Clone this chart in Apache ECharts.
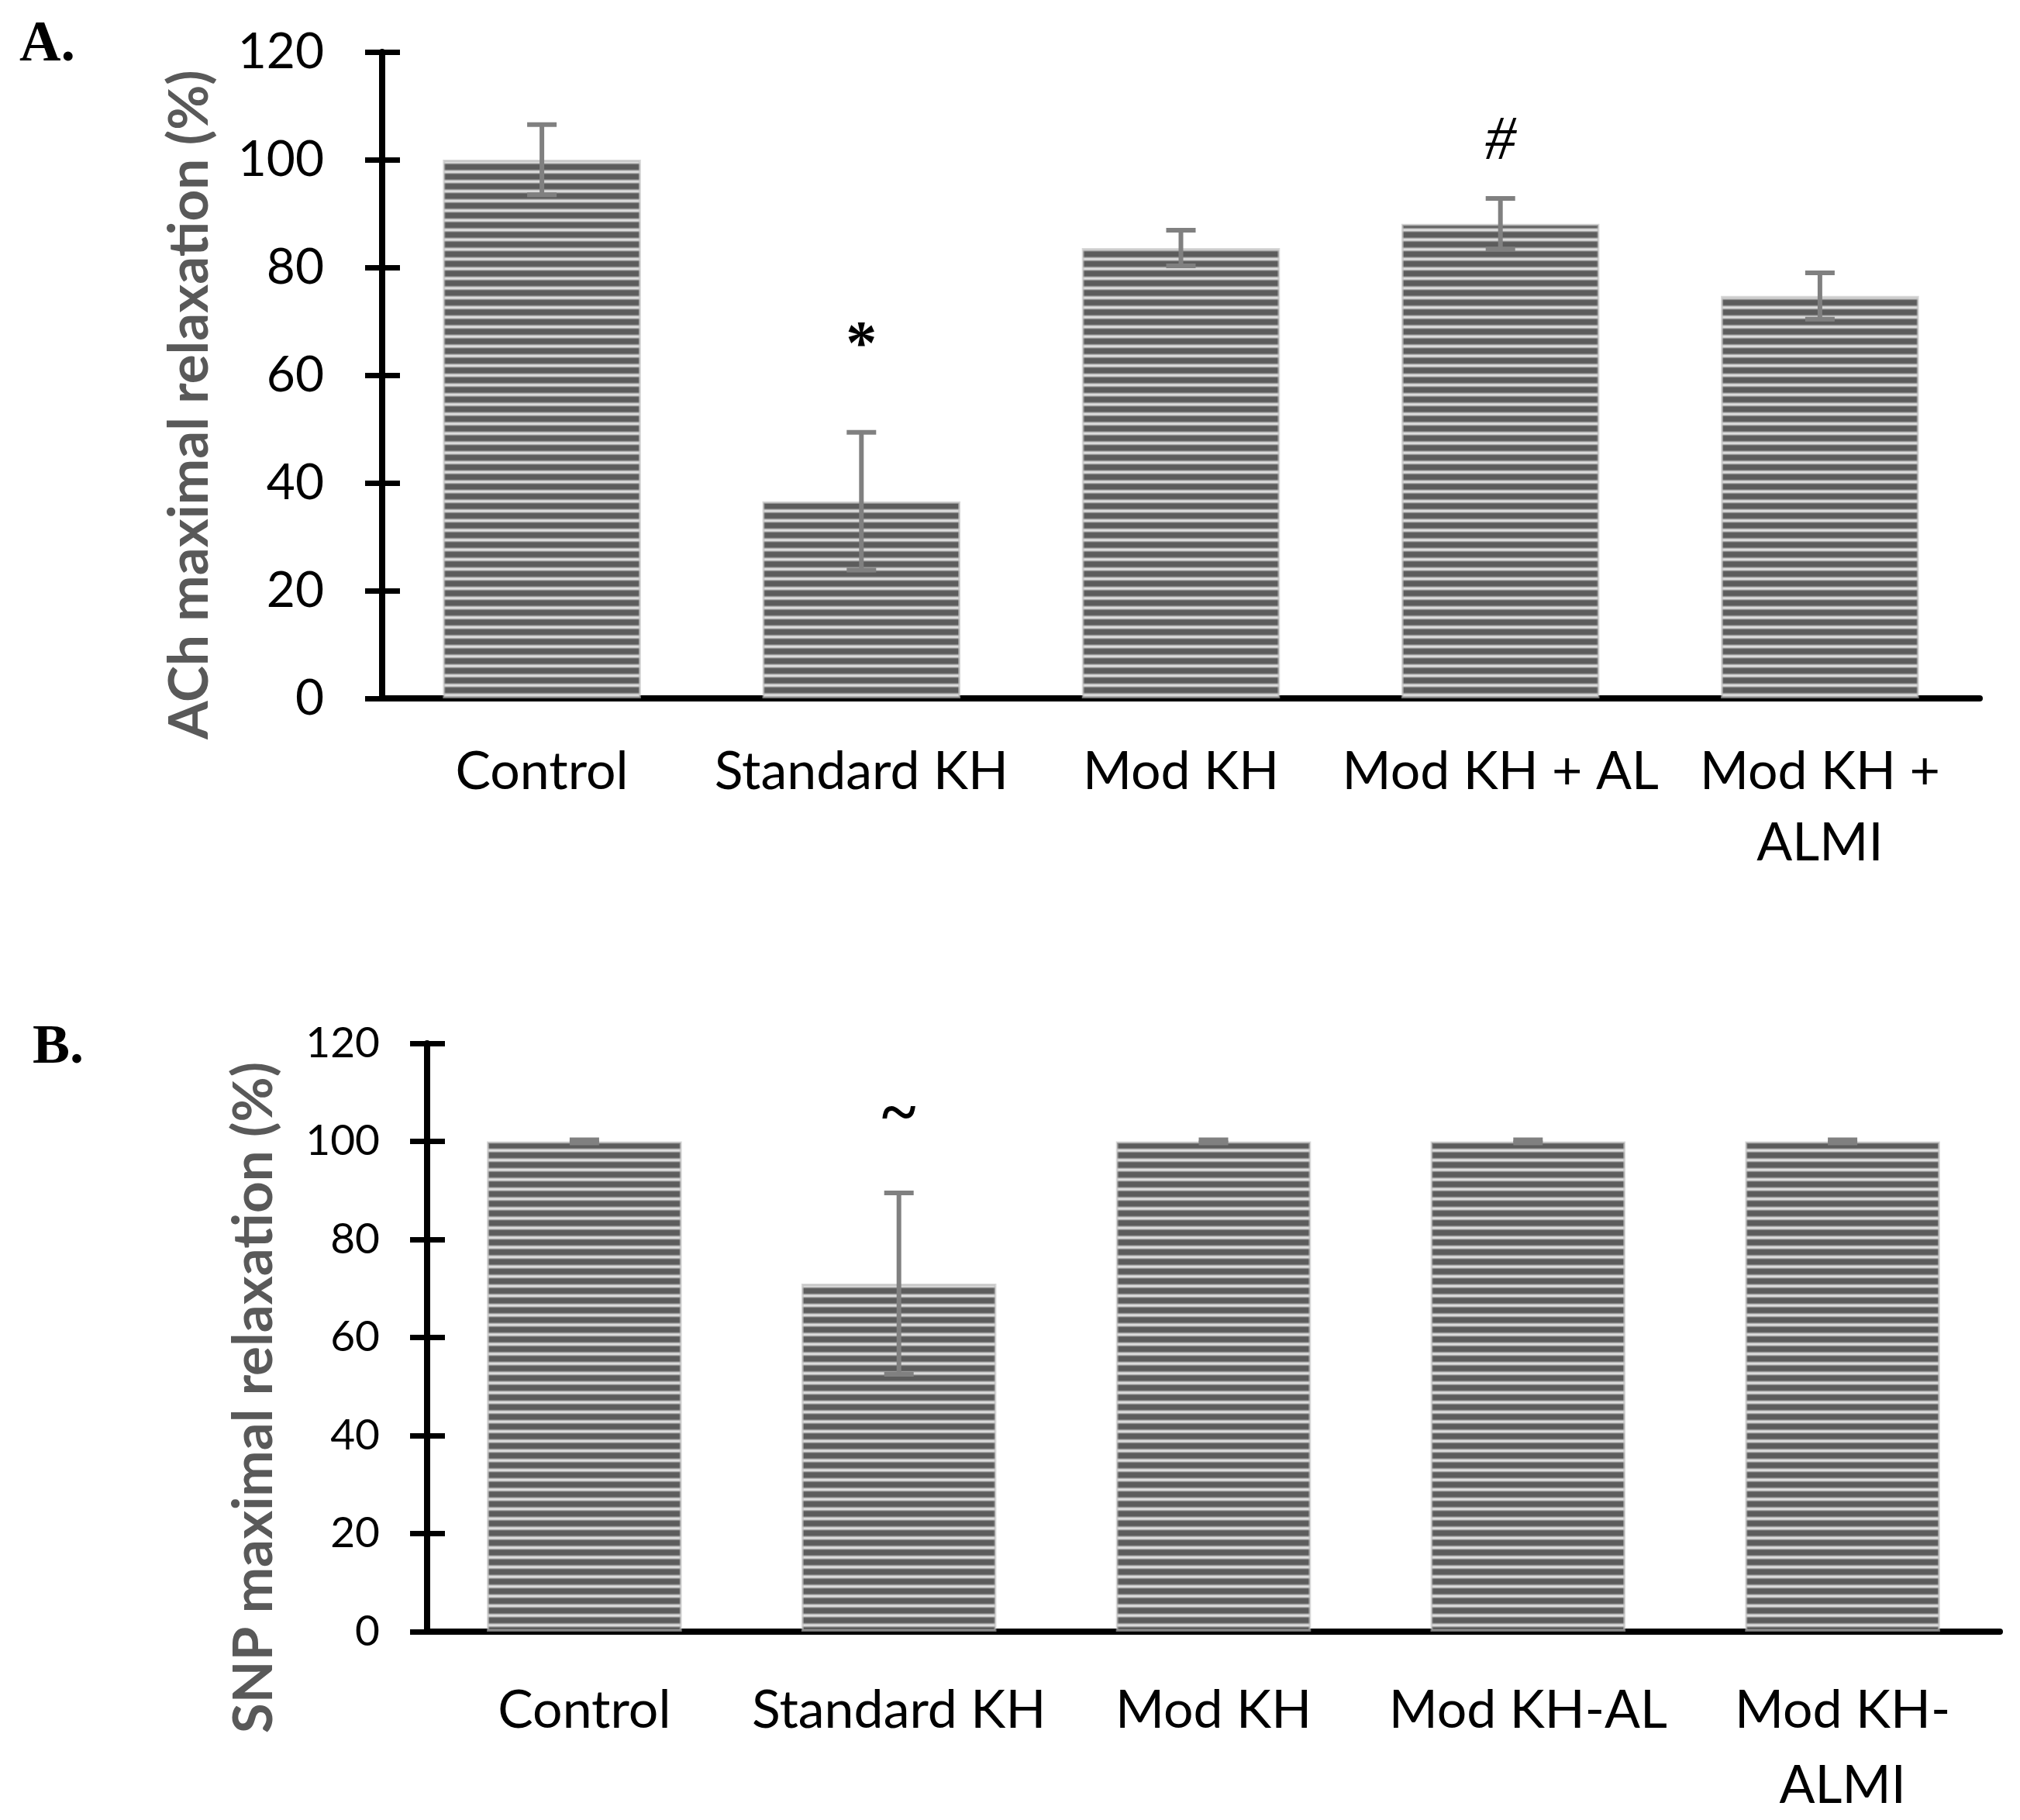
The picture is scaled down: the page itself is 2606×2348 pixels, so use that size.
<!DOCTYPE html>
<html><head><meta charset="utf-8">
<script src="https://cdn.jsdelivr.net/npm/echarts@6/dist/echarts.min.js"></script>
<style>html,body{margin:0;padding:0;background:#fff}#c{width:2606px;height:2348px}</style>
</head><body><div id="c"></div>
<script>
// ---- Data ----
const categoriesA = ['Control', 'Standard KH', 'Mod KH', 'Mod KH + AL', 'Mod KH +\nALMI'];
const meansA = [100, 36.6, 83.6, 88.1, 74.7];
const errA = [6.5, 12.8, 3.3, 4.7, 4.3];
const annotA = ['', '*', '', '#', ''];
const annotYA = [null, 65.1, null, 103.1, null];

const categoriesB = ['Control', 'Standard KH', 'Mod KH', 'Mod KH-AL', 'Mod KH-\nALMI'];
const meansB = [100, 71, 100, 100, 100];
const errB = [0.3, 18.5, 0.3, 0.3, 0.3];
const annotB = ['', '~', '', '', ''];
const annotYB = [null, 104.9, null, null, null];

const yTitleA = 'ACh maximal relaxation (%)';
const yTitleB = 'SNP maximal relaxation (%)';

// ---- Stripe pattern ----
const pc = document.createElement('canvas');
pc.width = 8; pc.height = 25;
const pctx = pc.getContext('2d');
function prof(t) {
  const D = 92, L = 222;
  if (t < 0.46) return D;
  if (t < 0.68) return D + (L - D) * (t - 0.46) / 0.22;
  if (t < 0.80) return L;
  return L - (L - D) * (t - 0.80) / 0.20;
}
for (let y = 0; y < 25; y++) {
  let s = 0;
  for (let k = 0; k < 4; k++) s += prof((((y + (k + 0.5) / 4)) % 12.5) / 12.5);
  const b = Math.round(s / 4);
  pctx.fillStyle = 'rgb(' + b + ',' + b + ',' + b + ')';
  pctx.fillRect(0, y, 8, 1);
}
const stripe = { image: pc, repeat: 'repeat' };

const FONT = 'Lato';
const chart = echarts.init(document.getElementById('c'), null, { renderer: 'canvas' });

function errSeries(xi, yi, means, errs) {
  return {
    type: 'custom', xAxisIndex: xi, yAxisIndex: yi, z: 5,
    data: means.map((m, i) => [i, m, errs[i]]),
    renderItem: function (params, api) {
      const i = api.value(0), m = api.value(1), e = api.value(2);
      const top = api.coord([i, m + e]);
      const bot = api.coord([i, m - e]);
      const hw = 19;
      const st = { stroke: '#808080', lineWidth: 6 };
      return { type: 'group', children: [
        { type: 'line', shape: { x1: top[0], y1: top[1], x2: bot[0], y2: bot[1] }, style: st },
        { type: 'line', shape: { x1: top[0] - hw, y1: top[1], x2: top[0] + hw, y2: top[1] }, style: st },
        { type: 'line', shape: { x1: bot[0] - hw, y1: bot[1], x2: bot[0] + hw, y2: bot[1] }, style: st }
      ]};
    }
  };
}
function annotSeries(xi, yi, labels, ys, font) {
  return {
    type: 'custom', xAxisIndex: xi, yAxisIndex: yi, z: 6,
    data: labels.map((t, i) => [i, ys[i] == null ? 0 : ys[i], t]).filter(d => d[2] !== ''),
    renderItem: function (params, api) {
      const p = api.coord([api.value(0), api.value(1)]);
      return { type: 'text', x: p[0], y: p[1], style: {
        text: labels[api.value(0)], font: font(labels[api.value(0)]), fill: '#000', align: 'center', verticalAlign: 'middle' } };
    }
  };
}
const annotFont = function (t) {
  if (t === '#') return 'italic 80px "Liberation Serif"';
  if (t === '~') return 'bold 84px "Liberation Serif"';
  return 'bold 80px "Liberation Serif"';
};

function yAxisPair(gi, labelSize, margin) {
  const base = { type: 'value', gridIndex: gi, min: 0, max: 120, interval: 20, position: 'left', splitLine: { show: false } };
  return [
    Object.assign({}, base, {
      axisLine: { show: true, lineStyle: { color: '#000', width: 8 } },
      axisTick: { show: true, inside: false, length: 22, lineStyle: { color: '#000', width: 7 } },
      axisLabel: { fontFamily: FONT, fontSize: labelSize, color: '#000', margin: margin }
    }),
    Object.assign({}, base, {
      axisLine: { show: false },
      axisTick: { show: true, inside: true, length: 23, lineStyle: { color: '#000', width: 7 } },
      axisLabel: { show: false }
    })
  ];
}
function xAxis(gi, cats, margin, lh) {
  return {
    type: 'category', gridIndex: gi, data: cats,
    axisLine: { show: true, lineStyle: { color: '#000', width: 8 } },
    axisTick: { show: false },
    axisLabel: { fontFamily: FONT, fontSize: 68, color: '#000', margin: margin, lineHeight: lh, interval: 0 }
  };
}

const yA = yAxisPair(0, 64, 75);
const yB = yAxisPair(1, 55, 61);

const barStyle = { color: stripe, borderColor: 'rgba(190,190,190,0.6)', borderWidth: 3 };

chart.setOption({
  animation: false,
  backgroundColor: '#fff',
  grid: [
    { left: 493, right: 52, top: 67, height: 834, containLabel: false, outerBoundsMode: 'none' },
    { left: 551, right: 26, top: 1346, height: 759, containLabel: false, outerBoundsMode: 'none' }
  ],
  xAxis: [xAxis(0, categoriesA, 49, 92), xAxis(1, categoriesB, 54, 97)],
  yAxis: [yA[0], yA[1], yB[0], yB[1]],
  graphic: [
    { type: 'text', left: 25, top: 22, style: { text: 'A.', font: 'bold 74px "Liberation Serif"', fill: '#000' } },
    { type: 'text', left: 42, top: 1316, style: { text: 'B.', font: 'bold 72px "Liberation Serif"', fill: '#000' } },
    { type: 'text', x: 245, y: 522, rotation: Math.PI / 2,
      style: { text: yTitleA, font: 'bold 71px Lato', fill: '#595959', align: 'center', verticalAlign: 'middle' } },
    { type: 'text', x: 328, y: 1803, rotation: Math.PI / 2,
      style: { text: yTitleB, font: 'bold 71px Lato', fill: '#595959', align: 'center', verticalAlign: 'middle' } }
  ],
  series: [
    { type: 'bar', xAxisIndex: 0, yAxisIndex: 0, data: meansA, barCategoryGap: '38%', itemStyle: barStyle },
    errSeries(0, 0, meansA, errA),
    annotSeries(0, 0, annotA, annotYA, annotFont),
    { type: 'bar', xAxisIndex: 1, yAxisIndex: 2, data: meansB, barCategoryGap: '38%', itemStyle: barStyle },
    errSeries(1, 2, meansB, errB),
    annotSeries(1, 2, annotB, annotYB, annotFont)
  ]
});
</script></body></html>
